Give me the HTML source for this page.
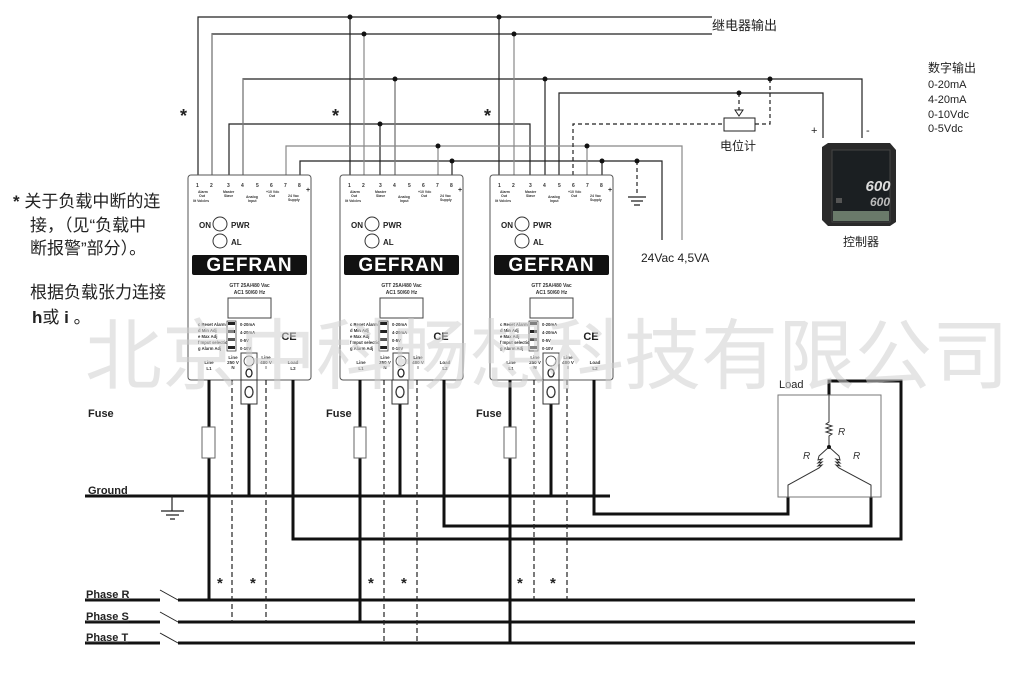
<!DOCTYPE html>
<html><head><meta charset="utf-8"><style>
html,body{margin:0;padding:0;background:#fff;}
svg{display:block;}
text{font-family:"Liberation Sans","Noto Sans CJK SC",sans-serif;}
</style></head><body>
<svg width="1024" height="685" viewBox="0 0 1024 685" xmlns="http://www.w3.org/2000/svg">
<defs>
<g id="mod">
  <rect x="0" y="0" width="123" height="205" rx="3" fill="#fff" stroke="#555" stroke-width="1"/>
  <g font-size="5" fill="#333" font-weight="bold">
    <text x="8" y="12">1</text><text x="22" y="12">2</text><text x="39" y="12">3</text><text x="53" y="12">4</text><text x="68" y="12">5</text><text x="82" y="12">6</text><text x="96" y="12">7</text><text x="110" y="12">8</text>
    <text x="10" y="18" font-size="3.5">Alarm</text><text x="11" y="22" font-size="3.5">Out</text><text x="5" y="27" font-size="3.5">lit Volcles</text>
    <text x="35" y="18" font-size="3.5">Master</text><text x="36" y="22" font-size="3.5">Slave</text>
    <text x="58" y="23" font-size="3.5">Analog</text><text x="60" y="27" font-size="3.5">Input</text>
    <text x="78" y="18" font-size="3.5">+10 Vdc</text><text x="81" y="22" font-size="3.5">Out</text>
    <text x="100" y="22" font-size="3.5">24 Vac</text><text x="100" y="26" font-size="3.5">Supply</text>
    <text x="118" y="17" font-size="7">+</text>
  </g>
  <text x="11" y="53" font-size="8" font-weight="bold" fill="#222">ON</text>
  <circle cx="32" cy="49" r="7" fill="none" stroke="#333"/>
  <text x="43" y="53" font-size="8" font-weight="bold" fill="#222">PWR</text>
  <circle cx="32" cy="66" r="7" fill="none" stroke="#333"/>
  <text x="43" y="70" font-size="8" font-weight="bold" fill="#222">AL</text>
  <rect x="4" y="80" width="115" height="20" rx="2" fill="#111"/>
  <text x="61.5" y="96" font-size="19" font-weight="bold" fill="#fff" text-anchor="middle" letter-spacing="1">GEFRAN</text>
  <text x="61.5" y="112" font-size="5" font-weight="bold" fill="#333" text-anchor="middle">GTT 25A/480 Vac</text>
  <text x="61.5" y="119" font-size="5" font-weight="bold" fill="#333" text-anchor="middle">AC1 50/60 Hz</text>
  <rect x="40" y="123" width="43" height="20" fill="#fff" stroke="#444"/>
  <g font-size="4.2" fill="#333" font-weight="bold">
    <text x="10" y="151">c Reset Alarm</text><text x="10" y="157">d Min Adj</text><text x="10" y="163">e Max Adj</text><text x="10" y="169">f Input selection</text><text x="10" y="175">g Alarm Adj</text>
    <text x="52" y="151">0-20mA</text><text x="52" y="159">4-20mA</text><text x="52" y="167">0-5V</text><text x="52" y="175">0-10V</text>
  </g>
  <rect x="39" y="146" width="9" height="30" fill="#fff" stroke="#333" stroke-width="0.7"/>
  <rect x="40" y="147" width="7" height="3" fill="#222"/><rect x="40" y="155" width="7" height="3" fill="#222"/><rect x="40" y="163" width="7" height="3" fill="#555"/><rect x="40" y="171" width="7" height="3" fill="#222"/>
  <text x="101" y="165" font-size="11" font-weight="bold" fill="#222" text-anchor="middle">CE</text>
  <rect x="53" y="178" width="16" height="27" fill="#fff" stroke="#444"/>
  <circle cx="61" cy="186" r="5" fill="none" stroke="#444" stroke-width="0.8"/>
  <ellipse cx="61" cy="198" rx="3" ry="4" fill="none" stroke="#222" stroke-width="1.3"/>
  <g font-size="4.5" fill="#333" font-weight="bold" text-anchor="middle">
    <text x="21" y="189">Line</text><text x="21" y="195">L1</text>
    <text x="45" y="184">Line</text><text x="45" y="189">250 V</text><text x="45" y="194">N</text>
    <text x="78" y="184">Line</text><text x="78" y="189">480 V</text><text x="78" y="194">I</text>
    <text x="105" y="189">Load</text><text x="105" y="195">L2</text>
  </g>
</g>
<g id="term">
  <rect x="0" y="0" width="16" height="24" fill="#fff" stroke="#333"/>
  <ellipse cx="8" cy="12" rx="4" ry="5.5" fill="none" stroke="#333" stroke-width="1.3"/>
</g>
</defs>

<!-- top signal wiring -->
<g fill="none" stroke="#222" stroke-width="1.2">
  <path d="M198 175V17H712"/>
  <path d="M212 175V34H712" />
  <path d="M350 175V17M499 175V17"/>
  <path d="M243 175V79H862V138"/>
  <path d="M395 175V79M545 175V79"/>
  <path d="M559 175V93H823V138"/>
  <path d="M229 175V124H530V175M380 175V124"/>
  <path d="M300 175V161H662V240"/>
  <path d="M452 175V161M602 175V161"/>
</g>
<g fill="none" stroke="#888" stroke-width="1.2">
  <path d="M212 175V34M364 175V34M514 175V34"/>
  <path d="M243 175V79"/>
  <path d="M395 175V79"/>
  <path d="M286 175V146H682V240"/>
  <path d="M438 175V146M587 175V146"/>
</g>
<g fill="none" stroke="#222" stroke-width="1.2" stroke-dasharray="4,3">
  <path d="M573 175V124H724M755 124H770V79"/>
  <path d="M739 93V112"/>
  <path d="M637 161V195"/>
</g>
<path d="M735 110L739 116L743 110Z" fill="#fff" stroke="#222"/>
<rect x="724" y="118" width="31" height="13" fill="#fff" stroke="#222"/>
<path d="M628 197H646M631 201H643M634 205H640" stroke="#222" stroke-width="1.2"/>
<g fill="#111">
  <circle cx="350" cy="17" r="2.5"/><circle cx="499" cy="17" r="2.5"/>
  <circle cx="364" cy="34" r="2.5"/><circle cx="514" cy="34" r="2.5"/>
  <circle cx="395" cy="79" r="2.5"/><circle cx="545" cy="79" r="2.5"/><circle cx="770" cy="79" r="2.5"/>
  <circle cx="739" cy="93" r="2.5"/>
  <circle cx="380" cy="124" r="2.5"/>
  <circle cx="438" cy="146" r="2.5"/><circle cx="587" cy="146" r="2.5"/>
  <circle cx="452" cy="161" r="2.5"/><circle cx="602" cy="161" r="2.5"/><circle cx="637" cy="161" r="2.5"/>
</g>

<!-- modules -->
<use href="#mod" x="188" y="175"/>
<use href="#mod" x="340" y="175"/>
<use href="#mod" x="490" y="175"/>

<!-- power wiring -->
<g fill="none" stroke="#111" stroke-width="3">
  <path d="M85 496H610"/>
  <path d="M85 600H160M178 600H915"/>
  <path d="M85 622H160M178 622H915"/>
  <path d="M85 643H160M178 643H915"/>
  <path d="M209 380V600M360 380V622M510 380V643"/>
  <path d="M249 403V496M400 403V496M551 403V496"/>
  <path d="M293 380V539H901V381H829V395"/>
  <path d="M444 380V526H871V497"/>
  <path d="M594 380V514H788V497"/>
</g>
<path d="M160 590L178 600M160 612L178 622M160 633L178 643" stroke="#222" stroke-width="1"/>
<g fill="none" stroke="#222" stroke-width="1.2" stroke-dasharray="5,3">
  <path d="M232 380V622M266 380V622"/>
  <path d="M384 380V643M417 380V643"/>
  <path d="M534 380V600M567 380V600"/>
</g>
<use href="#term" x="241" y="380"/>
<use href="#term" x="392" y="380"/>
<use href="#term" x="543" y="380"/>
<g fill="#fff" stroke="#666">
  <rect x="202" y="427" width="13" height="31"/>
  <rect x="354" y="427" width="12" height="31"/>
  <rect x="504" y="427" width="12" height="31"/>
</g>
<path d="M172 496V511M161 511H184M166 515H179M170 519H175" stroke="#222" stroke-width="1.2" fill="none"/>

<!-- load -->
<rect x="778" y="395" width="103" height="102" fill="none" stroke="#777" stroke-width="1"/>
<g fill="none" stroke="#333" stroke-width="1">
  <path d="M829 395V422l-3 2 6 2-6 2 6 2-6 2 6 2-3 2V447"/>
  <path d="M829 447L819 456l-1 4 4-1-4 4 4-1-4 4 4-1-3 3L788 485V497"/>
  <path d="M829 447L839 456l1 4-4-1 4 4-4-1 4 4-4-1 3 3L871 485V497"/>
</g>
<circle cx="829" cy="447" r="2" fill="#111"/>
<g font-size="10" font-style="italic" fill="#333">
  <text x="838" y="435">R</text><text x="803" y="459">R</text><text x="853" y="459">R</text>
</g>
<text x="779" y="388" font-size="11" fill="#222">Load</text>

<!-- labels -->
<g font-size="11" font-weight="bold" fill="#222">
  <text x="88" y="417">Fuse</text><text x="326" y="417">Fuse</text><text x="476" y="417">Fuse</text>
  <text x="88" y="494">Ground</text>
  <text x="86" y="598" text-decoration="underline">Phase R</text>
  <text x="86" y="620" text-decoration="underline">Phase S</text>
  <text x="86" y="641" text-decoration="underline">Phase T</text>
</g>
<g font-size="18" fill="#222" font-weight="bold">
  <text x="180" y="122">*</text><text x="332" y="122">*</text><text x="484" y="122">*</text>
  <text x="217" y="588" font-size="15">*</text><text x="250" y="588" font-size="15">*</text>
  <text x="368" y="588" font-size="15">*</text><text x="401" y="588" font-size="15">*</text>
  <text x="517" y="588" font-size="15">*</text><text x="550" y="588" font-size="15">*</text>
</g>
<text x="712" y="30" font-size="13" fill="#222">继电器输出</text>
<g font-size="11" fill="#222">
  <text x="928" y="72" font-size="12">数字输出</text>
  <text x="928" y="88">0-20mA</text><text x="928" y="103">4-20mA</text><text x="928" y="118">0-10Vdc</text><text x="928" y="132">0-5Vdc</text>
  <text x="811" y="134">+</text><text x="866" y="134">-</text>
</g>
<text x="720" y="150" font-size="12" fill="#222">电位计</text>
<text x="843" y="246" font-size="12" fill="#222">控制器</text>
<text x="641" y="262" font-size="12" fill="#222">24Vac 4,5VA</text>

<!-- controller -->
<g>
  <path d="M822 147L828 143H890L896 150V222L890 226H828L822 220Z" fill="#2a2a2a"/>
  <rect x="832" y="150" width="58" height="72" fill="#1b1f22" stroke="#444"/>
  <rect x="833" y="211" width="56" height="10" fill="#6a7a6a"/>
  <text x="878" y="191" font-size="15" fill="#ddd" font-weight="bold" text-anchor="middle" font-style="italic">600</text>
  <text x="880" y="206" font-size="12" fill="#bbb" font-weight="bold" text-anchor="middle" font-style="italic">600</text>
  <rect x="836" y="198" width="6" height="5" fill="#555"/>
</g>

<!-- left notes -->
<g font-size="17" fill="#222">
  <text x="13" y="207"><tspan font-weight="bold">*</tspan> 关于负载中断的连</text>
  <text x="30" y="231">接，（见“负载中</text>
  <text x="30" y="254">断报警”部分）。</text>
  <text x="30" y="298">根据负载张力连接</text>
  <text x="32" y="323"><tspan font-weight="bold">h</tspan>或 <tspan font-weight="bold">i</tspan> 。</text>
</g>

<!-- watermark on top -->
<text x="85" y="383" font-size="77" fill="#cfcfcf" fill-opacity="0.55" font-family="'Noto Sans CJK SC',sans-serif">北京中科畅想科技有限公司</text>
</svg>
</body></html>
